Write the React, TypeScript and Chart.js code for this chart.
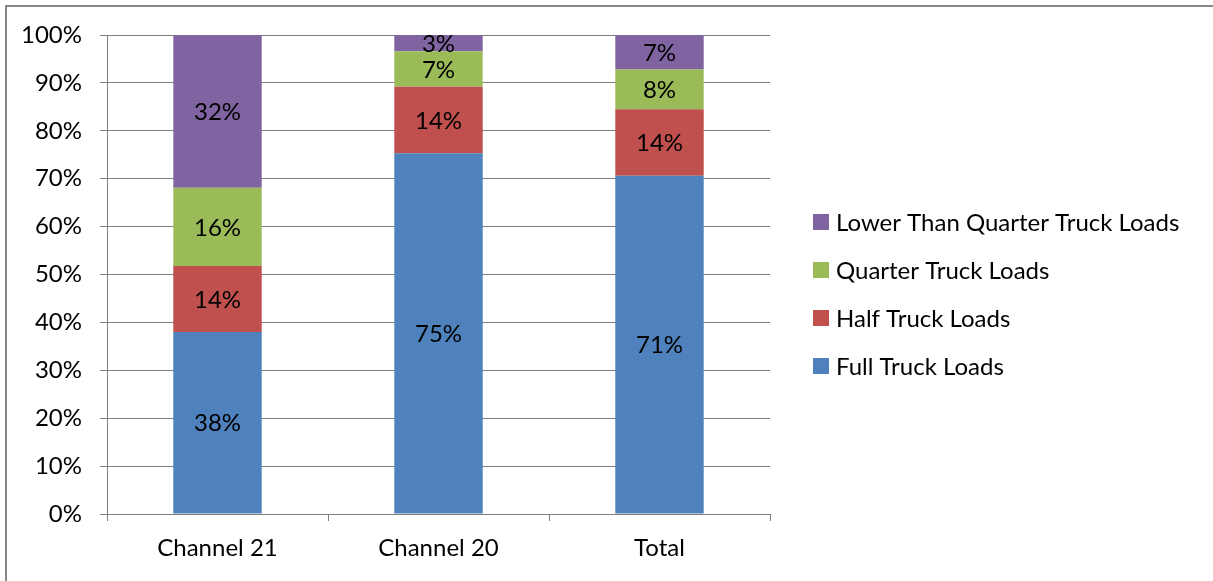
import React, { useEffect, useRef } from "react";
import { Chart, registerables } from "chart.js";

Chart.register(...registerables);

const categories = ["Channel 21", "Channel 20", "Total"];
const seriesNames = [
  "Full Truck Loads",
  "Half Truck Loads",
  "Quarter Truck Loads",
  "Lower Than Quarter Truck Loads",
];
const fullLoads = [38.0, 75.3, 70.6];
const halfLoads = [13.8, 13.9, 13.9];
const quarterLoads = [16.3, 7.4, 8.3];
const lowerLoads = [31.9, 3.4, 7.2];
const seriesColors = ["#4F81BD", "#C0504D", "#9BBB59", "#8064A2"];
const yTicks = [0, 10, 20, 30, 40, 50, 60, 70, 80, 90, 100];

const FONT = "Lato, 'Open Sans', sans-serif";
const FONT_SIZE = 24;
const GRID = "#7f7f7f";

// Percent labels centred in each stacked segment, clipped to the plot area.
const segmentLabels = {
  id: "segmentLabels",
  afterDatasetsDraw(chart: any) {
    const { ctx, chartArea } = chart;
    ctx.save();
    ctx.beginPath();
    ctx.rect(chartArea.left, chartArea.top, chartArea.right - chartArea.left, chartArea.bottom - chartArea.top);
    ctx.clip();
    ctx.font = `${FONT_SIZE}px ${FONT}`;
    ctx.fillStyle = "#000";
    ctx.textAlign = "center";
    ctx.textBaseline = "middle";
    chart.data.datasets.forEach((ds: any, i: number) => {
      const meta = chart.getDatasetMeta(i);
      meta.data.forEach((bar: any, j: number) => {
        const v = ds.data[j];
        const cy = (bar.y + bar.base) / 2;
        ctx.fillText(`${Math.round(v)}%`, bar.x, cy + 1);
      });
    });
    ctx.restore();
  },
};

// Legend on the right, last series on top.
const sideLegend = {
  id: "sideLegend",
  afterDraw(chart: any) {
    const { ctx } = chart;
    const x = 813;
    const firstY = 222;
    const step = 48;
    const box = 16;
    ctx.save();
    ctx.font = `${FONT_SIZE}px ${FONT}`;
    ctx.textBaseline = "middle";
    ctx.textAlign = "left";
    const order = chart.data.datasets.map((_: any, i: number) => i).reverse();
    order.forEach((dsIndex: number, row: number) => {
      const ds = chart.data.datasets[dsIndex];
      const cy = firstY + row * step;
      ctx.fillStyle = ds.backgroundColor;
      ctx.fillRect(x, cy - box / 2, box, box);
      ctx.fillStyle = "#000";
      ctx.fillText(ds.label, x + box + 7, cy + 1);
    });
    ctx.restore();
  },
};

export default function App() {
  const canvasRef = useRef<HTMLCanvasElement | null>(null);

  useEffect(() => {
    if (!canvasRef.current) return;
    const values = [fullLoads, halfLoads, quarterLoads, lowerLoads];
    const chart = new Chart(canvasRef.current, {
      type: "bar",
      data: {
        labels: categories,
        datasets: seriesNames.map((name, i) => ({
          label: name,
          data: values[i],
          backgroundColor: seriesColors[i],
          borderWidth: 0,
          barPercentage: 0.4,
          categoryPercentage: 1,
        })),
      },
      options: {
        responsive: false,
        animation: false,
        events: [],
        layout: { padding: { left: 0, top: 35, right: 443, bottom: 0 } },
        plugins: {
          legend: { display: false },
          tooltip: { enabled: false },
        },
        scales: {
          x: {
            stacked: true,
            offset: true,
            grid: {
              offset: true,
              drawOnChartArea: false,
              drawTicks: true,
              tickLength: 7,
              color: GRID,
            },
            border: { color: GRID, width: 1 },
            ticks: {
              color: "#000",
              font: { family: FONT, size: FONT_SIZE },
              padding: 13,
              maxRotation: 0,
            },
            afterFit(scale: any) {
              scale.height = 67;
            },
          },
          y: {
            stacked: true,
            min: 0,
            max: 100,
            afterBuildTicks(scale: any) {
              scale.ticks = yTicks.map((v) => ({ value: v }));
            },
            grid: {
              color: GRID,
              lineWidth: 1,
              drawTicks: true,
              tickLength: 7,
            },
            border: { color: GRID, width: 1 },
            ticks: {
              color: "#000",
              font: { family: FONT, size: FONT_SIZE },
              padding: 18,
              callback: (v: any) => `${v}%`,
            },
            afterFit(scale: any) {
              scale.width = 107;
            },
          },
        },
      },
      plugins: [segmentLabels, sideLegend],
    });
    return () => chart.destroy();
  }, []);

  return (
    <div
      style={{
        position: "absolute",
        left: 0,
        top: 0,
        width: 1213,
        height: 581,
        overflow: "hidden",
        background: "#fff",
      }}
    >
      <div
        style={{
          position: "absolute",
          left: 5,
          top: 5,
          width: 1213,
          height: 600,
          borderTop: "2px solid #868686",
          borderLeft: "2px solid #868686",
        }}
      />
      <canvas
        ref={canvasRef}
        width={1213}
        height={581}
        style={{ position: "absolute", left: 0, top: 0, width: 1213, height: 581 }}
      />
    </div>
  );
}
